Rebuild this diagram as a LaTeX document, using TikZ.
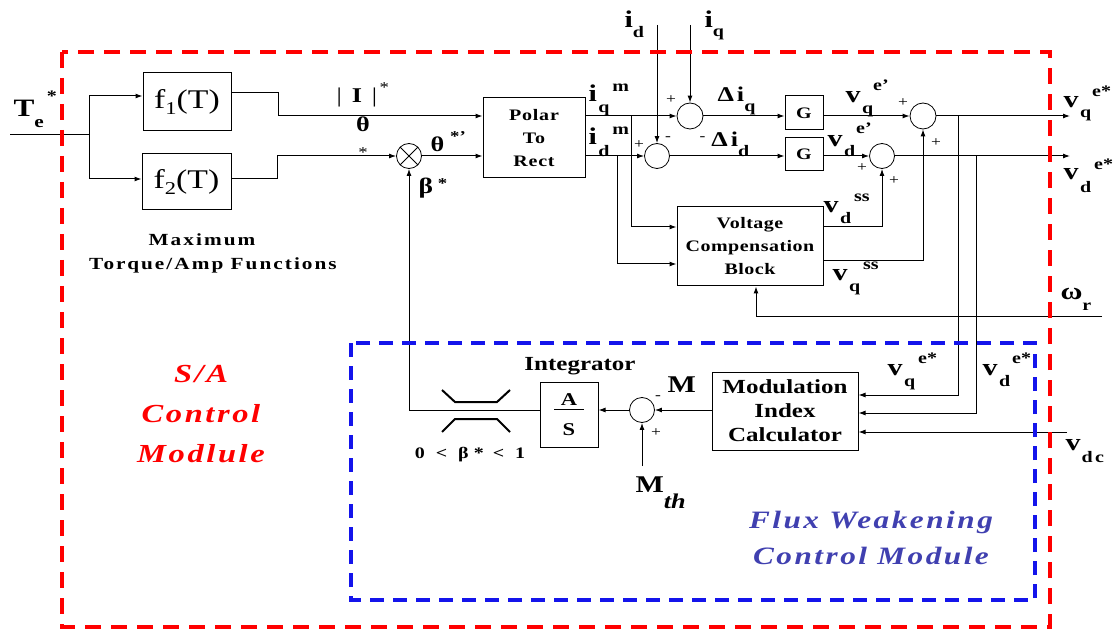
\documentclass[tikz,border=0pt]{standalone}
\usepackage{fontspec}
\setmainfont{Liberation Serif}[FakeStretch=1.25]
\usetikzlibrary{arrows.meta}
\newcommand\fsz[2]{\fontsize{#1pt}{#2pt}\selectfont}
\newcommand\ls[1]{\addfontfeatures{LetterSpace=#1}}
% base, sub, sup, gap before sup, drop of sub, rise of sup
\newcommand\lab[6]{#1\hspace{1.5pt}\raisebox{-#5pt}{\fsz{16}{16}#2}\hspace{#4pt}\raisebox{#6pt}{\fsz{16}{16}#3}}
\definecolor{sared}{RGB}{255,0,0}
\definecolor{fwblue}{RGB}{20,20,235}
\definecolor{fwtext}{RGB}{64,64,176}
\begin{document}
\begin{tikzpicture}[x=1pt,y=-1pt,line width=1pt,
  blk/.style={draw,line width=1pt,inner sep=0pt,align=center,font=\bfseries},
  sumc/.style={draw,circle,inner sep=0pt,line width=0.8pt,minimum size=25pt},
  arr/.style={-{Latex[length=7pt,width=5pt]}},
  lbl/.style={inner sep=0pt,anchor=base west,font=\bfseries\fsz{24}{24}},
  pm/.style={inner sep=0pt,font=\fsz{14}{14}},
]
\useasboundingbox (0,0) rectangle (1117,631);

% ---------- blocks ----------
\node[blk,font=\fsz{27}{27},minimum width=88pt,minimum height=58pt] (f1) at (187,101.5) {f\raisebox{-6pt}{\fsz{18}{18}1}(T)};
\node[blk,font=\fsz{27}{27},minimum width=89pt,minimum height=56pt] (f2) at (186.5,181.5) {f\raisebox{-6pt}{\fsz{18}{18}2}(T)};
\node[blk,font=\bfseries\fsz{16}{23}\ls{5},minimum width=102pt,minimum height=80pt] (pr) at (534,138) {Polar\\To\\Rect};
\node[blk,font=\bfseries\fsz{16}{16},minimum width=38pt,minimum height=34pt] (g1) at (804,113) {G};
\node[blk,font=\bfseries\fsz{16}{16},minimum width=38pt,minimum height=33pt] (g2) at (804,154.5) {G};
\node[blk,font=\bfseries\fsz{16}{23}\ls{3},minimum width=146pt,minimum height=79pt] (vcb) at (750,246.5) {Voltage\\Compensation\\Block};
\node[blk,font=\bfseries\fsz{20}{24},minimum width=146pt,minimum height=78pt] (mic) at (785,411) {Modulation\\Index\\Calculator};
\node[blk,font=\bfseries\fsz{18}{15},minimum width=58pt,minimum height=65pt] (as) at (569,414.5) {A\\\rule[10pt]{30pt}{1.1pt}\\S};

% ---------- summing junctions ----------
\node[sumc] (ox) at (409,156) {};
\draw[line width=0.8pt] (ox.north east) -- (ox.south west) (ox.north west) -- (ox.south east);
\node[sumc,minimum size=26pt] (c1) at (690,116) {};
\node[sumc] (c2) at (657,156) {};
\node[sumc,minimum size=26pt] (c3) at (923,116) {};
\node[sumc] (c4) at (882,156) {};
\node[sumc] (c5) at (642,410) {};

% ---------- connectors ----------
\coordinate (tein) at (10,135);
\coordinate (tej) at (89,135);
\draw (tein) -- (tej);
\draw[arr] (tej) |- ([yshift=5.5pt]f1.west);
\draw[arr] (tej) |- ([yshift=2.5pt]f2.west);
\draw[arr] ([yshift=8.5pt]f1.east) -- (278,93) -- (278,116) -- (pr.west |- c1);
\draw[arr] ([yshift=2.5pt]f2.east) -- (277,179) -- (277,156) -- (ox.west);
\draw[arr] (ox.east) -- (pr.west |- ox);
\draw[arr] (pr.east |- c1) -- (c1.west);
\draw[arr] (pr.east |- c2) -- (c2.west);
\coordinate (tq) at (631,116);
\coordinate (td) at (617,156);
\draw[arr] (tq) |- ([yshift=19.5pt]vcb.west);
\draw[arr] (td) |- ([yshift=-17.5pt]vcb.west);
\coordinate (idin) at (657,25);
\coordinate (iqin) at (690,25);
\draw[arr] (idin) -- (c2.north);
\draw[arr] (iqin) -- (c1.north);
\draw[arr] (c1.east) -- (g1.west |- c1);
\draw[arr] (c2.east) -- (g2.west |- c2);
\draw[arr] (g1.east |- c3) -- (c3.west);
\draw[arr] (g2.east |- c4) -- (c4.west);
\draw[arr] ([yshift=19.5pt]vcb.east) -| (c4.south);
\draw[arr] ([yshift=-14.5pt]vcb.east) -| (c3.south);
\coordinate (oq) at (1070,116);
\coordinate (od) at (1070,156);
\draw[arr] (c3.east) -- (oq);
\draw[arr] (c4.east) -- (od);
\coordinate (tvq) at (958,116);
\coordinate (tvd) at (976,156);
\draw[arr] (tvq) |- ([yshift=16pt]mic.east);
\draw[arr] (tvd) |- ([yshift=-2pt]mic.east);
\coordinate (vdc) at (1067,432);
\draw[arr] (vdc) -- (mic.east |- vdc);
\coordinate (wr) at (1102,316);
\draw[arr] (wr) -| ([xshift=6pt]vcb.south);
\draw[arr] (mic.west |- c5) -- (c5.east);
\draw[arr] (c5.west) -- (as.east |- c5);
\draw[arr] (as.west |- c5) -| (ox.south);
\coordinate (mth) at (642,466);
\draw[arr] (mth) -- (c5.south);

% limiter
\draw[line width=2pt] (442,390) -- (455,402) -- (497,402) -- (510,390);
\draw[line width=2pt] (442,432) -- (455,419) -- (497,419) -- (510,432);

% ---------- labels ----------
\node[lbl,font=\bfseries\fsz{25}{25}] (lte) at (13,117) {T\raisebox{-11pt}{\fsz{17}{17}e}\hspace{3pt}\raisebox{15pt}{\fsz{16}{16}*}};
\node[lbl,font=\bfseries\fsz{21}{21}] (lI) at (336,103) {\mdseries|\hspace{10pt}\bfseries I\hspace{10pt}\mdseries|\raisebox{10pt}{\fsz{15}{15}\,*}};
\node[inner sep=0pt,font=\bfseries\fsz{21}{21}] (lth) at (363,124) {θ};
\node[inner sep=0pt,font=\fsz{15}{15}] (lst) at (363,153) {*};
\node[lbl,font=\bfseries\fsz{21}{21}] (lth2) at (430,152) {θ\hspace{6pt}\raisebox{10pt}{\fsz{15}{15}*'}};
\node[lbl,font=\bfseries\fsz{22}{22}] (lbe) at (418,194) {β\hspace{5pt}\raisebox{5pt}{\fsz{15}{15}*}};
\node[lbl] (lidt) at (624,28) {i\raisebox{-10pt}{\fsz{16}{16}d}};
\node[lbl] (liqt) at (704,28) {i\raisebox{-9pt}{\fsz{16}{16}q}};
\node[lbl] (liqm) at (588,102) {\lab{i}{q}{m}{3}{11}{10}};
\node[lbl] (lidm) at (588,145) {\lab{i}{d}{m}{3}{12}{10}};
\node[lbl,font=\bfseries\fsz{21}{21}] (ldq) at (717,102) {Δ\hspace{3pt}i\raisebox{-10pt}{\fsz{16}{16}q}};
\node[lbl,font=\bfseries\fsz{21}{21}] (ldd) at (699,147) {\raisebox{6pt}{\fsz{14}{14}\mdseries -}\hspace{6pt}Δ\hspace{3pt}i\raisebox{-10pt}{\fsz{16}{16}d}};
\node[lbl] (lvqe) at (845,103) {\lab{v}{q}{e'}{0}{11}{12}};
\node[lbl] (lvde) at (827,147) {\lab{v}{d}{e'}{1}{10}{13}};
\node[lbl] (lvdss) at (823,213) {\lab{v}{d}{ss}{3}{11}{11}};
\node[lbl] (lvqss) at (832,280) {\lab{v}{q}{ss}{3}{11}{10}};
\node[lbl] (lvqo) at (1063,108) {\lab{v}{q}{e*}{1}{10}{11}};
\node[lbl] (lvdo) at (1063,180) {\lab{v}{d}{e*}{3}{13}{10}};
\node[lbl] (lwr) at (1060,300) {ω\raisebox{-10pt}{\fsz{16}{16}r}};
\node[lbl] (lvqm) at (887,375) {\lab{v}{q}{e*}{3}{11}{12}};
\node[lbl] (lvdm) at (982,375) {\lab{v}{d}{e*}{2}{11}{12}};
\node[lbl] (lvdc) at (1065,450) {v\hspace{1pt}\raisebox{-12pt}{\fsz{16}{16}\ls{15}dc}};
\node[lbl,font=\bfseries\fsz{24}{24}] (lM) at (667,392) {M};
\node[lbl,font=\bfseries\fsz{24}{24}] (lMth) at (635,492) {M\raisebox{-16pt}{\fsz{21}{21}\itshape th}};
\node[inner sep=0pt,font=\bfseries\fsz{16}{16}] (lrng) at (470,455) {0\hspace{11pt}<\hspace{11pt}β\hspace{5pt}*\hspace{9pt}<\hspace{11pt}1};
\node[inner sep=0pt,font=\bfseries\fsz{20}{20}] (lint) at (580,366) {Integrator};
\node[inner sep=0pt,font=\bfseries\fsz{17}{24}\ls{12},align=center] (lmax) at (213,253) {Maximum\hspace*{22pt}\\Torque/Amp Functions};
\node[inner sep=0pt,font=\bfseries\itshape\fsz{26}{40}\ls{10},text=sared,align=center] (lsa) at (201,414) {S/A\\Control\\Modlule};
\node[inner sep=0pt,font=\bfseries\itshape\fsz{25}{36}\ls{10},text=fwtext,align=center] (lfw) at (871,538) {Flux Weakening\\Control Module};

% plus / minus signs
\node[pm] (p1) at (671,100) {+};
\node[pm] (p2) at (639,145) {+};
\node[pm] (m2) at (668,139) {-};
\node[pm] (p3) at (903,103) {+};
\node[pm] (p4) at (936,143) {+};
\node[pm] (p5) at (862,168) {+};
\node[pm] (p6) at (894,181) {+};
\node[pm] (m7) at (658,398) {-};
\node[pm] (p7) at (656,433) {+};

% ---------- module frames ----------
\draw[sared,line width=3.5pt,dash pattern=on 16pt off 10pt] (62,52) rectangle (1050,627);
\draw[fwblue,line width=3.5pt,dash pattern=on 14pt off 9pt] (351,343) rectangle (1035,600);
\end{tikzpicture}
\end{document}
